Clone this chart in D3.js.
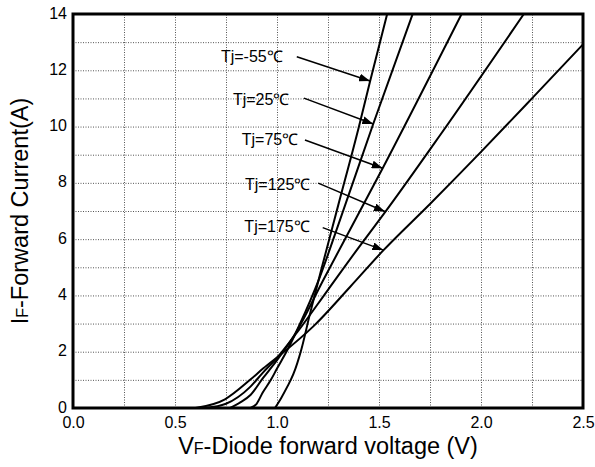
<!DOCTYPE html>
<html>
<head>
<meta charset="utf-8">
<script src="https://cdn.jsdelivr.net/npm/d3@7"></script>
<style>
  body { margin: 0; background: #fff; }
  text { font-family: "Liberation Sans", Arial, Helvetica, sans-serif; fill: #000; }
</style>
</head>
<body>
<script>
// forward voltage (V) / forward current (A)
const seriesNames = ["Tj=-55℃", "Tj=25℃", "Tj=75℃", "Tj=125℃", "Tj=175℃"];
const vfM55 = [0.99, 1.02, 1.05, 1.08, 1.12, 1.16, 1.22, 1.30, 1.40, 1.456, 1.54];
const ifM55 = [0, 0.35, 0.75, 1.2, 2.1, 3.3, 5.0, 7.2, 9.95, 11.6, 14];
const vf25 = [0.87, 0.90, 0.93, 0.97, 1.0, 1.05, 1.11, 1.207, 1.30, 1.472, 1.665];
const if25 = [0, 0.15, 0.55, 1.0, 1.4, 2.05, 2.95, 4.6, 6.5, 10.1, 14];
const vf75 = [0.77, 0.82, 0.87, 0.93, 1.0, 1.09, 1.227, 1.518, 1.905];
const if75 = [0, 0.2, 0.46, 1.05, 1.7, 2.65, 4.55, 8.52, 14];
const vf125 = [0.65, 0.75, 0.87, 0.93, 1.0, 1.1, 1.25, 1.4, 1.529, 1.8, 2.21];
const if125 = [0, 0.15, 0.76, 1.25, 1.78, 2.7, 4.2, 5.7, 6.95, 9.7, 14];
const vf175 = [0.60, 0.745, 0.868, 0.933, 1.015, 1.178, 1.358, 1.521, 1.75, 2.0, 2.25, 2.5];
const if175 = [0, 0.31, 1.0, 1.41, 1.88, 2.9, 4.3, 5.6, 7.25, 9.1, 11.0, 12.92];

const xTicks = [0, 0.5, 1.0, 1.5, 2.0, 2.5];
const yTicks = [0, 2, 4, 6, 8, 10, 12, 14];

// label anchor (V, A), arrow start and arrow tip on the curve
const labelV = [0.725, 0.784, 0.827, 0.843, 0.840];
const labelI = [12.51, 10.98, 9.56, 7.96, 6.47];
const arrowFromV = [1.097, 1.132, 1.137, 1.202, 1.224];
const arrowFromI = [12.48, 11.01, 9.52, 7.99, 6.41];
const arrowToV = [1.456, 1.472, 1.518, 1.529, 1.521];
const arrowToI = [11.62, 10.09, 8.52, 6.98, 5.61];

const W = 595, H = 467;
const margin = { left: 73, right: 12, top: 14, bottom: 59 };
const plotW = W - margin.left - margin.right;
const plotH = H - margin.top - margin.bottom;

const svg = d3.select("body").append("svg").attr("width", W).attr("height", H);

const x = d3.scaleLinear().domain([0, 2.5]).range([0, plotW]);
const y = d3.scaleLinear().domain([0, 14]).range([plotH, 0]);

const g = svg.append("g").attr("transform", `translate(${margin.left},${margin.top})`);

// dotted grid
g.append("g")
    .attr("transform", `translate(0,${plotH})`)
    .call(d3.axisBottom(x).tickValues(d3.range(0.25, 2.5, 0.25)).tickSize(-plotH).tickFormat(""))
    .call(s => s.select(".domain").remove())
    .selectAll("line").attr("stroke", "#555").attr("stroke-dasharray", "1,1.5");
g.append("g")
    .call(d3.axisLeft(y).tickValues(d3.range(1, 14, 1)).tickSize(-plotW).tickFormat(""))
    .call(s => s.select(".domain").remove())
    .selectAll("line").attr("stroke", "#555").attr("stroke-dasharray", "1,1.5");

// tick labels
const xAxis = g.append("g")
    .attr("transform", `translate(0,${plotH})`)
    .call(d3.axisBottom(x).tickValues(xTicks).tickSize(0).tickPadding(9).tickFormat(d3.format(".1f")));
xAxis.select(".domain").remove();
xAxis.selectAll("text").attr("font-size", 16).attr("font-family", null);

const yAxis = g.append("g")
    .call(d3.axisLeft(y).tickValues(yTicks).tickSize(0).tickPadding(6));
yAxis.select(".domain").remove();
yAxis.selectAll("text").attr("font-size", 16).attr("font-family", null).attr("dy", "0.25em");

// curves
g.append("clipPath").attr("id", "clip")
    .append("rect").attr("width", plotW).attr("height", plotH);

const line = d3.line()
    .x(d => x(d[0]))
    .y(d => y(d[1]))
    .curve(d3.curveMonotoneX);

const curves = [
    d3.zip(vfM55, ifM55),
    d3.zip(vf25, if25),
    d3.zip(vf75, if75),
    d3.zip(vf125, if125),
    d3.zip(vf175, if175)
];

g.append("g").attr("clip-path", "url(#clip)")
    .selectAll("path")
    .data(curves)
    .join("path")
    .attr("d", line)
    .attr("fill", "none")
    .attr("stroke", "#000")
    .attr("stroke-width", 2);

// frame
g.append("rect")
    .attr("width", plotW).attr("height", plotH)
    .attr("fill", "none").attr("stroke", "#000").attr("stroke-width", 3);

// annotations
svg.append("defs").append("marker")
    .attr("id", "arrow")
    .attr("markerUnits", "userSpaceOnUse")
    .attr("markerWidth", 11).attr("markerHeight", 8)
    .attr("refX", 11).attr("refY", 4)
    .attr("orient", "auto")
    .append("path").attr("d", "M0,0 L11,4 L0,8 Z").attr("fill", "#000");

seriesNames.forEach((name, i) => {
    g.append("text")
        .attr("x", x(labelV[i]))
        .attr("y", y(labelI[i]))
        .attr("dy", "0.35em")
        .attr("font-size", 16)
        .text(name);
    g.append("line")
        .attr("x1", x(arrowFromV[i])).attr("y1", y(arrowFromI[i]))
        .attr("x2", x(arrowToV[i])).attr("y2", y(arrowToI[i]))
        .attr("stroke", "#000").attr("stroke-width", 1.5)
        .attr("marker-end", "url(#arrow)");
});

// axis titles
const xTitle = svg.append("text")
    .attr("x", margin.left + plotW / 2)
    .attr("y", 454)
    .attr("text-anchor", "middle")
    .attr("font-size", 23.5);
xTitle.append("tspan").text("V");
xTitle.append("tspan").attr("font-size", 16).text("F");
xTitle.append("tspan").text("-Diode forward voltage (V)");

const yTitle = svg.append("text")
    .attr("transform", `translate(27.5,${margin.top + plotH / 2}) rotate(-90)`)
    .attr("text-anchor", "middle")
    .attr("font-size", 23.5);
yTitle.append("tspan").text("I");
yTitle.append("tspan").attr("font-size", 16).text("F");
yTitle.append("tspan").text("-Forward Current(A)");
</script>
</body>
</html>
